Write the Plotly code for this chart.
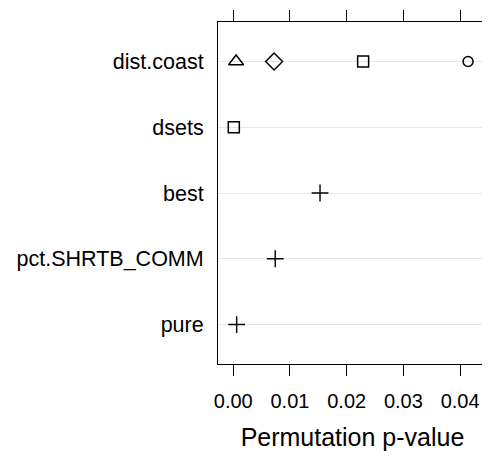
import plotly.graph_objects as go

# rows of the dot plot, bottom to top
rows = ["pure", "pct.SHRTB_COMM", "best", "dsets", "dist.coast"]

# p-values per marker group
plus_rows = ["best", "pct.SHRTB_COMM", "pure"]
plus_vals = [0.0153, 0.0074, 0.0006]

square_rows = ["dist.coast", "dsets"]
square_vals = [0.0229, 0.0001]

diamond_rows = ["dist.coast"]
diamond_vals = [0.0072]

triangle_rows = ["dist.coast"]
triangle_vals = [0.0005]

circle_rows = ["dist.coast"]
circle_vals = [0.0414]

x_ticks = [0.00, 0.01, 0.02, 0.03, 0.04]
x_ticktext = ["0.00", "0.01", "0.02", "0.03", "0.04"]

font = "Liberation Sans, Arial, sans-serif"

fig = go.Figure()

def add_group(vals, names, symbol, size, lw=1.5):
    # open symbols take their stroke colour from marker.color
    fig.add_trace(go.Scatter(
        x=vals, y=[rows.index(n) for n in names], mode="markers",
        marker=dict(symbol=symbol, size=size, color="black",
                    line=dict(color="black", width=lw)),
        showlegend=False))

add_group(plus_vals, plus_rows, "cross-thin-open", 12, 1.4)
add_group(square_vals, square_rows, "square-open", 11)
add_group(diamond_vals, diamond_rows, "diamond-open", 13)
add_group(triangle_vals, triangle_rows, "triangle-up-open", 13)
add_group(circle_vals, circle_rows, "circle-open", 10)

# the page body adds an 8px offset, so the figure is sized to fit inside it
fig.update_layout(
    width=482, height=458,
    margin=dict(l=210, r=3, t=14, b=102),
    plot_bgcolor="white", paper_bgcolor="white",
    font=dict(family=font, color="black", size=20),
)
fig.update_xaxes(
    range=[-0.00269, 0.04474], tickvals=x_ticks, ticktext=x_ticktext,
    showgrid=False, zeroline=False, showline=True, linecolor="black", linewidth=1,
    mirror="ticks", ticks="outside", ticklen=11, tickcolor="black", tickwidth=1,
    tickfont=dict(size=20), ticklabelstandoff=8, automargin=False,
    title=dict(text="Permutation p-value", font=dict(size=25), standoff=17),
)
fig.update_yaxes(
    range=[-0.6, 4.6], tickvals=list(range(len(rows))), ticktext=rows,
    showgrid=True, gridcolor="#e6e6e6", gridwidth=1, zeroline=False,
    showline=True, linecolor="black", linewidth=1, mirror=True, automargin=False,
    ticks="", tickfont=dict(size=21.5), ticklabelstandoff=9,
)

fig.write_html("out.html")
